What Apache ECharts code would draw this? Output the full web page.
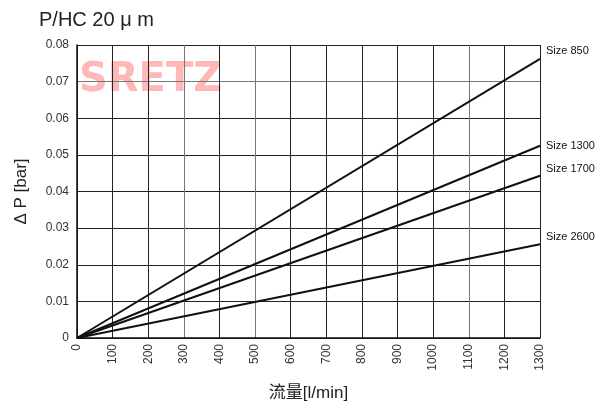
<!DOCTYPE html>
<html><head><meta charset="utf-8">
<script src="https://cdn.jsdelivr.net/npm/echarts@6/dist/echarts.min.js"></script>
<style>html,body{margin:0;padding:0;background:#fff}#c{width:603px;height:412px}</style>
</head><body><div id="c"></div>
<script>
const sizes = ['Size 850', 'Size 1300', 'Size 1700', 'Size 2600'];
const startFlow = 0;
const endFlow = 1300;
const endDrops = [0.0762, 0.0525, 0.0443, 0.0256];
const labelOffsets = [[2, -8], [2, 0], [2, -7], [2, -7]];

const chart = echarts.init(document.getElementById('c'), null, {renderer: 'canvas'});
const series = sizes.map((name, i) => ({
  name, type: 'line', symbol: 'none', silent: true,
  data: [[startFlow, 0], [endFlow, endDrops[i]]],
  lineStyle: {color: '#111', width: 2},
  endLabel: {show: true, formatter: name, color: '#111', fontSize: 11,
    fontFamily: 'Liberation Sans, Arial', offset: labelOffsets[i], distance: 4}
}));
chart.setOption({
  animation: false,
  backgroundColor: '#fff',
  grid: {left: 77, right: 63, top: 45, bottom: 74},
  title: {text: 'P/HC 20 \u03bc m', left: 34, top: 5,
    textStyle: {fontSize: 20, fontWeight: 'normal', color: '#222', fontFamily: 'Liberation Sans, Arial'}},
  graphic: [{type: 'text', left: 79, top: 61, z: -10, zlevel: 0,
    style: {text: 'SRETZ', fontSize: 40, fontWeight: 'bold',
      fill: '#ffb8b8', fontFamily: 'DejaVu Sans, Arial'}}],
  xAxis: {type: 'value', min: 0, max: 1300, interval: 100,
    name: '\u6d41\u91cf[l/min]', nameLocation: 'middle', nameGap: 47,
    nameTextStyle: {fontSize: 17, color: '#222', fontFamily: 'Liberation Sans, Noto Sans CJK SC'},
    axisLine: {lineStyle: {color: '#111', width: 1.5}}, axisTick: {show: false},
    axisLabel: {rotate: 90, fontSize: 12, color: '#333', margin: 6, fontFamily: 'Liberation Sans, Arial',
      formatter: v => String(v)},
    splitLine: {show: true, lineStyle: {color: ['#222', '#222', '#222', '#777', '#222', '#777', '#222', '#222', '#222', '#222', '#222', '#777', '#222', '#222'], width: 1}}},
  yAxis: {type: 'value', min: 0, max: 0.08, interval: 0.01,
    name: '\u0394 P [bar]', nameLocation: 'middle', nameGap: 47, nameRotate: 90,
    nameTextStyle: {fontSize: 17, color: '#222', fontFamily: 'Liberation Sans, Arial'},
    axisLine: {show: true, lineStyle: {color: '#111', width: 1.5}}, axisTick: {show: false},
    axisLabel: {fontSize: 12, color: '#333', margin: 8, fontFamily: 'Liberation Sans, Arial',
      formatter: v => v === 0 ? '0' : v.toFixed(2)},
    splitLine: {show: true, lineStyle: {color: ['#222', '#222', '#222', '#222', '#222', '#222', '#222', '#777', '#222'], width: 1}}},
  series
});
</script></body></html>
